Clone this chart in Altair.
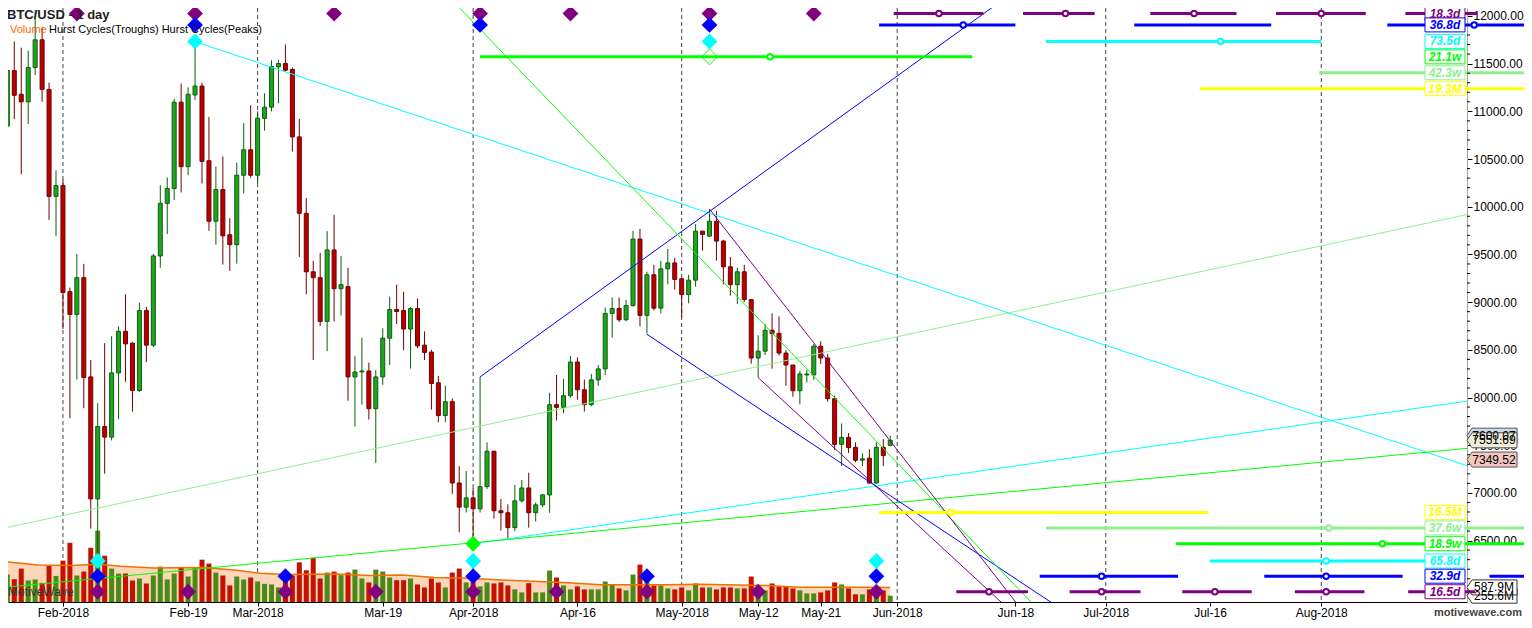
import altair as alt
import pandas as pd

FONT = "Liberation Sans"
W, H = 1459, 594
PAD_R, PAD_B = 57, 18

# ---------------- data ----------------
first_day_offset = -8          # first candle: 2018-01-24, offsets are days from 2018-02-01
opens = [10846, 11428, 11179, 11099, 11459, 11750, 11230, 10108,
         10222, 9110, 8871, 9256, 8216, 6937, 7696, 7585, 8258, 8694, 8570, 8074, 8913, 8549, 9484, 10035, 10191, 11096, 10420, 11172, 11265, 10482, 9848, 10180, 9706, 9602, 10330, 10597,
         10330, 10926, 11044, 11467, 11501, 11439, 10732, 9931, 9318, 9256, 8798, 9547, 9141, 9162, 8216, 8268, 8278, 7883, 8216, 8622, 8923, 8913, 8718, 8933, 8549, 8476, 8154, 7811, 7956, 7104, 6851,
         6948, 6834, 7066, 7437, 6813, 6792, 6636, 6917, 7052, 6792, 6875, 6979, 7925, 7897, 8019, 8372, 8081, 7925, 8185, 8300, 8881, 8933, 8815, 8964, 9661, 8861, 9287, 8937, 9349, 9411,
         9245, 9079, 9230, 9744, 9692, 9848, 9640, 9370, 9183, 9318, 9027, 8414, 8486, 8705, 8673, 8466, 8341, 8071, 8237, 8237, 8538, 8414, 7988, 7509, 7582, 7478, 7343, 7364, 7104, 7478, 7499]
closes = [11428, 11168, 11099, 11459, 11750, 11230, 10108, 10222,
          9100, 8871, 9256, 8209, 6937, 7696, 7585, 8258, 8694, 8562, 8074, 8913, 8549, 9484, 10035, 10191, 11096, 10420, 11179, 11265, 10475, 9848, 10180, 9695, 9602, 10330, 10597, 10330,
          10929, 11044, 11470, 11501, 11431, 10732, 9931, 9318, 9256, 8798, 9547, 9141, 9183, 8216, 8268, 8278, 7883, 8216, 8622, 8923, 8902, 8718, 8933, 8541, 8473, 8147, 7811, 7956, 7104, 6851, 6948,
          6834, 7066, 7437, 6813, 6792, 6636, 6917, 7052, 6792, 6875, 6979, 7925, 7897, 8019, 8372, 8081, 7925, 8185, 8300, 8881, 8933, 8815, 8964, 9661, 8861, 9287, 8937, 9349, 9411, 9238,
          9079, 9230, 9744, 9710, 9848, 9640, 9370, 9183, 9318, 9027, 8414, 8486, 8705, 8670, 8466, 8341, 8071, 8247, 8247, 8538, 8414, 7988, 7509, 7582, 7475, 7343, 7357, 7104, 7478, 7391, 7551.69]
highs = [11525, 11733, 11667, 11636, 12060, 11880, 11300, 10382,
         10285, 9152, 9505, 9401, 8393, 7939, 8570, 8643, 8746, 9082, 8580, 8996, 8950, 9505, 10226, 10306, 11130, 11293, 11250, 11780, 11300, 10940, 10423, 10527, 9880, 10462, 10877, 11064,
         11000, 11189, 11535, 11540, 11700, 11460, 10919, 10091, 9433, 9516, 9744, 9914, 9484, 9360, 8434, 8626, 8365, 8289, 8726, 9058, 9183, 9110, 8950, 9037, 8694, 8500, 8227, 8123, 7990, 7281, 7229,
         7052, 8216, 7530, 7440, 6937, 6880, 7083, 7135, 7211, 6900, 6990, 8050, 8237, 8196, 8434, 8420, 8188, 8247, 8341, 8944, 9048, 9048, 9024, 9747, 9768, 9318, 9391, 9432, 9557, 9464,
         9249, 9287, 9817, 9747, 9976, 9955, 9654, 9474, 9360, 9391, 9030, 8653, 8770, 8881, 8850, 8497, 8341, 8278, 8289, 8560, 8590, 8458, 8019, 7728, 7627, 7530, 7416, 7457, 7530, 7564, 7600.07]
lows = [10496, 10919, 10340, 10867, 11380, 11100, 9862, 9695,
        8718, 7783, 8188, 7887, 6626, 5980, 7201, 7550, 7772, 8164, 7852, 8060, 8372, 8530, 9360, 9713, 10070, 10150, 10330, 11120, 10243, 9747, 9602, 9394, 9328, 9404, 10139, 10303,
        10243, 10797, 11000, 11085, 11420, 10579, 9474, 9082, 8393, 8750, 8486, 8798, 8860, 7967, 7696, 7925, 7769, 7315, 8133, 8341, 8770, 8496, 8303, 8517, 8393, 7873, 7741, 7741, 6990, 6587, 6795,
        6470, 6795, 7042, 6730, 6605, 6522, 6600, 6900, 6636, 6700, 6850, 6792, 7759, 7835, 8000, 7977, 7852, 7910, 8123, 8237, 8627, 8792, 8800, 8952, 8746, 8670, 8913, 8881, 9186, 9131,
        8840, 8989, 9162, 9540, 9682, 9436, 9186, 9069, 8979, 9000, 8355, 8210, 8445, 8303, 8440, 8123, 8008, 7928, 8157, 8185, 8351, 7956, 7447, 7281, 7419, 7322, 7281, 7097, 7097, 7281, 7488]
volumes_m = [1108, 920, 1348, 868, 908, 772, 1452, 1052,
             1668, 2388, 1068, 1228, 2188, 2880, 1868, 1348, 1148, 1148, 868, 948, 748, 1068, 1428, 908, 1148, 1400, 1028, 1388, 1708, 1548, 1188, 1068, 668, 1028, 908, 988,
             828, 732, 708, 588, 988, 1068, 1600, 1280, 1788, 948, 1188, 1228, 1080, 1188, 1308, 948, 788, 1308, 1228, 988, 880, 880, 948, 708, 588, 948, 788, 588, 1188, 1348, 788,
             800, 628, 788, 748, 788, 668, 508, 388, 760, 388, 388, 1268, 988, 668, 508, 628, 508, 508, 508, 828, 708, 548, 468, 1108, 1508, 1068, 668, 668, 548, 508,
             588, 468, 748, 588, 588, 508, 588, 588, 548, 548, 1028, 532, 468, 748, 628, 628, 548, 468, 348, 348, 388, 468, 788, 708, 548, 308, 308, 508, 388, 468, 255.6]

ma_days = [-8.3, -3.6, 1.2, 5.0, 8.4, 13.1, 20.2, 25.0, 28.4, 32.1, 39.2, 44.1, 48.8, 53.5, 58.4, 63.1, 72.7, 77.4, 87.0, 91.7, 101.2, 106.0, 115.5, 119.0]
ma_vals = [1628, 1492, 1468, 1520, 1440, 1372, 1388, 1280, 1160, 1108, 1132, 1068, 1092, 988, 960, 892, 772, 692, 692, 720, 668, 600, 600, 588]

month_days = [0, 28, 59, 89, 120, 150, 181]
tick_days = [0, 18, 28, 46, 59, 74, 89, 100, 109, 120, 137, 150, 165, 181]
tick_labels = ["Feb-2018", "Feb-19", "Mar-2018", "Mar-19", "Apr-2018", "Apr-16", "May-2018",
               "May-12", "May-21", "Jun-2018", "Jun-18", "Jul-2018", "Jul-16", "Aug-2018"]
price_ticks = list(range(6500, 12001, 500))
minor_ticks = [p for p in range(6000, 12100, 100) if p % 500]

trend_colors = ["cyan", "cyan", "green", "ltgreen", "blue", "blue", "green", "purple", "purple"]
trend_start_day = [19, 59, -10, -10, 60, 84, 50, 93, 100]
trend_start_price = [11730, 6467, 5999, 6607, 8216, 8663, 12618, 9976, 8209]
trend_end_day = [210, 210, 210, 210, 140, 145, 150, 150, 150]
trend_end_price = [7089, 8046, 7523, 10043, 12422, 5715, 5043, 4644, 4842]

peak_names = ["18.3d", "36.8d", "73.5d", "21.1w", "42.3w", "19.3M"]
peak_colors = ["purple", "blue", "cyan", "green", "ltgreen", "yellow"]
peak_levels = [12025, 11906, 11733, 11571, 11404, 11238]
trough_names = ["16.5M", "37.6w", "18.9w", "65.8d", "32.9d", "16.5d"]
trough_colors = ["yellow", "ltgreen", "green", "cyan", "blue", "purple"]
trough_levels = [6795, 6633, 6467, 6286, 6127, 5964]

# (start day, end day, centre day or None)
cycle_segments = {
    "18.3d": [(119.5, 132.4, 126.0), (138.1, 148.4, 144.2), (156.4, 168.8, 162.7), (174.5, 187.4, 181.0), (193.1, 203.4, None)],
    "36.8d": [(117.4, 137.0, 129.5), (154.1, 173.8, None), (190.5, 210.5, 203.0)],
    "73.5d": [(141.4, 181.0, 166.5)],
    "21.1w": [(60.0, 130.8, 101.7)],
    "42.3w": [(180.7, 210.5, None)],
    "19.3M": [(163.5, 210.5, None)],
    "16.5M": [(117.4, 164.8, 127.7)],
    "37.6w": [(141.4, 210.5, 182.1)],
    "18.9w": [(160.1, 210.5, 189.8)],
    "65.8d": [(165.0, 201.7, 181.7)],
    "32.9d": [(140.5, 160.4, 149.4), (172.8, 192.7, 181.7), (205.2, 210.5, None)],
    "16.5d": [(128.5, 138.8, 133.2), (144.8, 155.0, 149.4), (161.0, 171.0, 165.7), (177.2, 187.2, 181.7), (193.5, 203.1, None)],
}
cycle_markers = {
    "18.3d": [2, 19, 39, 60, 73, 93, 108],
    "36.8d": [19, 60, 93],
    "73.5d": [19, 93],
    "18.9w": [59],
    "65.8d": [5, 59, 117],
    "32.9d": [5, 32, 59, 84, 117],
    "16.5d": [5, 18, 32, 45, 59, 71, 84, 100, 117],
}
hollow_markers = {"21.1w": [93]}

price_tag_values = [7600.07, 7551.69, 7349.52]
price_tag_fills = ["#c9dcef", "#efedd9", "#f6c7c1"]
volume_tag_values = [255.6, 587.9]

# ---------------- styles ----------------
PALETTE = {"purple": "#800080", "blue": "#0000ff", "cyan": "#00ffff", "green": "#00ff00",
           "ltgreen": "#90ee90", "yellow": "#ffff00"}
G_BODY, G_EDGE = "#22a322", "#0b5e0b"
R_BODY, R_EDGE = "#b80000", "#700000"
V_GREEN, V_RED = "#4a8a18", "#c41200"

FEB1 = pd.Timestamp("2018-02-01")


def iso(d):
    return (FEB1 + pd.Timedelta(days=float(d))).strftime("%Y-%m-%dT%H:%M:%SZ")


def ms(d):
    return int((FEB1 + pd.Timedelta(days=float(d))).value // 10**6)


X_DOMAIN = [ms(-7.1857), ms(201.243)]
Y_DOMAIN = [5856.5, 12083.2]
VOL_DOMAIN = [0, 23960]
YPIX = H / 599.0  # reference-pixel to plot-pixel (vertical)

tick_ms = [ms(d) for d in tick_days]
tick_js = "[" + ",".join(str(t) for t in tick_ms) + "]"
lab_js = "[" + ",".join("'%s'" % l for l in tick_labels) + "]"
label_expr = "indexof(%s, +datum.value) >= 0 ? %s[indexof(%s, +datum.value)] : ''" % (tick_js, lab_js, tick_js)

x_axis = alt.Axis(values=tick_ms, labelExpr=label_expr, grid=False, tickSize=4, labelPadding=1,
                  labelFontSize=12, labelFont=FONT, labelColor="black", tickColor="black",
                  domainColor="black", labelAngle=0, title=None, labelOverlap=False, labelFlush=False)
y_axis = alt.Axis(orient="right", values=price_ticks, format=".2f", grid=False, tickSize=5,
                  labelPadding=1, labelFontSize=12, labelFont=FONT, labelColor="black",
                  tickColor="black", domainColor="#a8a890", title=None, labelFlush=False)


def X(field):
    return alt.X(field, type="temporal", scale=alt.Scale(type="utc", domain=X_DOMAIN, nice=False), axis=x_axis)


def Y(field):
    return alt.Y(field, type="quantitative", scale=alt.Scale(domain=Y_DOMAIN, nice=False, zero=False), axis=y_axis)


def YV(field):
    return alt.Y(field, type="quantitative", scale=alt.Scale(domain=VOL_DOMAIN, nice=False, zero=True), axis=None)


up = "datum.close >= datum.open"

# ---------------- tables ----------------
n = len(opens)
cdf = pd.DataFrame({
    "date": [iso(first_day_offset + i) for i in range(n)],
    "open": opens, "high": highs, "low": lows, "close": closes, "volume": volumes_m,
})
ma_df = pd.DataFrame({"date": [iso(d) for d in ma_days], "ma": ma_vals})
month_df = pd.DataFrame({"date": [iso(d) for d in month_days]})

trend_rows = []
for i, c in enumerate(trend_colors):
    trend_rows.append({"id": i, "date": iso(trend_start_day[i]), "price": trend_start_price[i], "color": PALETTE[c]})
    trend_rows.append({"id": i, "date": iso(trend_end_day[i]), "price": trend_end_price[i], "color": PALETTE[c]})
trend_df = pd.DataFrame(trend_rows)

names = peak_names + trough_names
colors = peak_colors + trough_colors
levels = peak_levels + trough_levels
level_of = dict(zip(names, levels))
color_of = {nm: PALETTE[c] for nm, c in zip(names, colors)}

seg_rows, circ_rows = [], []
for nm, segs in cycle_segments.items():
    for s, e, c in segs:
        seg_rows.append({"d0": iso(s), "d1": iso(e), "price": level_of[nm], "color": color_of[nm]})
        if c is not None:
            circ_rows.append({"date": iso(c), "price": level_of[nm], "color": color_of[nm]})
seg_df = pd.DataFrame(seg_rows)
circ_df = pd.DataFrame(circ_rows)

mark_rows = []
for nm, ds in cycle_markers.items():
    for d in ds:
        mark_rows.append({"date": iso(d), "price": level_of[nm], "color": color_of[nm]})
mark_df = pd.DataFrame(mark_rows)
hollow_df = pd.DataFrame([{"date": iso(d), "price": level_of[nm], "color": color_of[nm]}
                          for nm, ds in hollow_markers.items() for d in ds])

box_df = pd.DataFrame({"label": names, "price": levels, "color": [color_of[nm] for nm in names]})
minor_df = pd.DataFrame({"p": minor_ticks})
ptag_df = pd.DataFrame({"price": price_tag_values, "fill": price_tag_fills,
                        "label": ["%.2f" % v for v in price_tag_values]})
vtag_df = pd.DataFrame({"v": volume_tag_values, "label": ["%.1fM" % v for v in volume_tag_values]})

BOX_PATH = "M-1,-0.35L1,-0.35L1,0.35L-1,0.35Z"
TAG_PATH = "M-1,0L-0.8,-0.3L1,-0.3L1,0.3L-0.8,0.3Z"

# ---------------- volume panel ----------------
months = alt.Chart(month_df).mark_rule(color="#444444", strokeDash=[4, 3], strokeWidth=1).encode(x=X("date"))
ma_area = alt.Chart(ma_df).mark_area(clip=True, color="#fbd6b8", opacity=1).encode(x=X("date"), y=YV("ma"))
vol_bars = alt.Chart(cdf).mark_bar(width=5, opacity=1).encode(
    x=X("date"), y=YV("volume"),
    color=alt.condition(up, alt.value(V_GREEN), alt.value(V_RED)))
ma_line = alt.Chart(ma_df).mark_line(clip=True, color="#f07000", strokeWidth=1.5).encode(x=X("date"), y=YV("ma"))
vtag_shape = alt.Chart(vtag_df).mark_point(shape=TAG_PATH, size=2500, filled=True, fill="white",
                                           stroke="#333333", strokeWidth=1, opacity=1).encode(
    x=alt.value(W + 25), y=YV("v"))
vtag_text = alt.Chart(vtag_df).mark_text(font=FONT, fontSize=12, color="black", align="center",
                                         baseline="middle").encode(
    x=alt.value(W + 27), y=YV("v"), text="label")
vol_group = alt.layer(months, ma_area, vol_bars, ma_line, vtag_shape, vtag_text)

# ---------------- price panel ----------------
wicks = alt.Chart(cdf).mark_rule(strokeWidth=1).encode(
    x=X("date"), y=Y("low"), y2="high",
    color=alt.condition(up, alt.value(G_EDGE), alt.value(R_EDGE)))
bodies = alt.Chart(cdf).mark_bar(width=4, strokeWidth=1, opacity=1).encode(
    x=X("date"), y=Y("open"), y2="close",
    fill=alt.condition(up, alt.value(G_BODY), alt.value(R_BODY)),
    stroke=alt.condition(up, alt.value(G_EDGE), alt.value(R_EDGE)))
trends = alt.Chart(trend_df).mark_line(clip=True, strokeWidth=1).encode(
    x=X("date"), y=Y("price"), detail="id:N", color=alt.Color("color:N", scale=None))
segs = alt.Chart(seg_df).mark_rule(strokeWidth=3).encode(
    x=X("d0"), x2="d1", y=Y("price"), color=alt.Color("color:N", scale=None))
circs = alt.Chart(circ_df).mark_point(shape="circle", size=30, filled=True, fill="white",
                                      strokeWidth=2, opacity=1).encode(
    x=X("date"), y=Y("price"), stroke=alt.Stroke("color:N", scale=None))
diamonds = alt.Chart(mark_df).mark_point(shape="diamond", size=250, filled=True, opacity=1).encode(
    x=X("date"), y=Y("price"), color=alt.Color("color:N", scale=None))
hollow = alt.Chart(hollow_df).mark_point(shape="diamond", size=250, filled=False, strokeWidth=1, opacity=1).encode(
    x=X("date"), y=Y("price"), color=alt.Color("color:N", scale=None))
boxes = alt.Chart(box_df).mark_point(shape=BOX_PATH, size=1600, filled=True, fill="white",
                                     strokeWidth=1, opacity=1).encode(
    x=alt.value(W - 22), y=Y("price"), stroke=alt.Stroke("color:N", scale=None))
box_text = alt.Chart(box_df).mark_text(font=FONT, fontSize=12, fontWeight="bold", fontStyle="italic",
                                       align="center", baseline="middle").encode(
    x=alt.value(W - 22), y=Y("price"), text="label", color=alt.Color("color:N", scale=None))
minor = alt.Chart(minor_df).mark_rule(color="black", strokeWidth=1).encode(
    x=alt.value(W), x2=alt.value(W + 3), y=Y("p"))
ptag_shape = alt.Chart(ptag_df).mark_point(shape=TAG_PATH, size=2500, filled=True, stroke="#555555",
                                           strokeWidth=1, opacity=1).encode(
    x=alt.value(W + 25), y=Y("price"), fill=alt.Fill("fill:N", scale=None))
ptag_text = alt.Chart(ptag_df).mark_text(font=FONT, fontSize=12, color="black", align="center",
                                         baseline="middle").encode(
    x=alt.value(W + 27), y=Y("price"), text="label")


def label(txt, x, y, **kw):
    return alt.Chart(pd.DataFrame({"t": [txt]})).mark_text(font=FONT, align=kw.pop("align", "left"),
                                                           baseline="middle", **kw).encode(
        x=alt.value(x), y=alt.value(y), text="t")


title1 = label("BTC/USD - 1 day", -1, 6.5, fontSize=13, fontWeight="bold", color="#222222")
title2 = label("Volume", 2, (29.7 - 8) * YPIX, fontSize=11, color="#ff6600")
title3 = label("Hurst Cycles(Troughs) Hurst Cycles(Peaks)", 41, (29.7 - 8) * YPIX, fontSize=11, color="black")
wm1 = label("MotiveWave", 0, (596.7 - 8) * YPIX, fontSize=12, color="#333333")
wm2 = label("motivewave.com", W + PAD_R - 2, H + PAD_B - 7, fontSize=11, fontWeight="bold",
            color="#444444", align="right")

price_group = alt.layer(wicks, bodies, trends, segs, circs, diamonds, hollow, boxes, box_text,
                        minor, ptag_shape, ptag_text, title1, title2, title3, wm1, wm2)

chart = alt.layer(vol_group, price_group).resolve_scale(y="independent").properties(
    width=W, height=H,
    autosize=alt.AutoSizeParams(type="none"),
    padding={"left": 0, "top": 0, "right": PAD_R, "bottom": PAD_B},
    background="white",
).configure_view(stroke=None)

chart.save("out.html", embed_options={"renderer": "svg", "actions": False})
